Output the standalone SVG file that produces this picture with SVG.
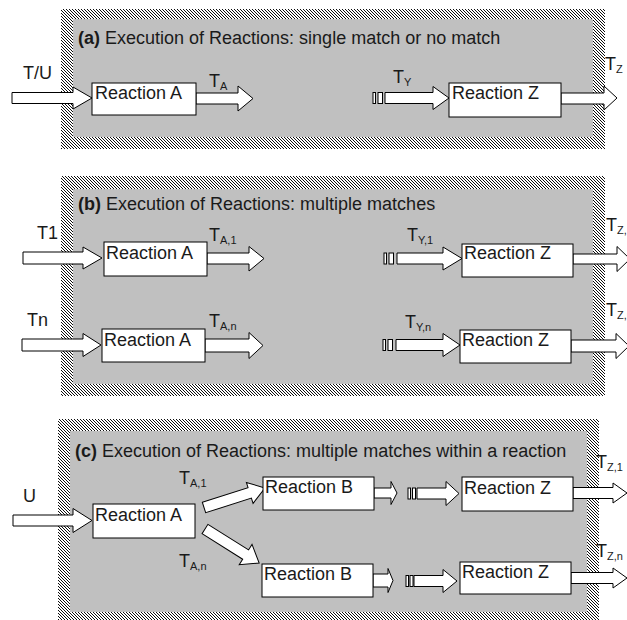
<svg xmlns="http://www.w3.org/2000/svg" width="627" height="620" viewBox="0 0 627 620">
<defs>
<pattern id="hatch" patternUnits="userSpaceOnUse" width="3" height="3">
<rect width="3" height="3" fill="#fff"/>
<path d="M-1,-1 L4,4 M-1,2 L1,4 M2,-1 L4,1" stroke="#000" stroke-width="0.95"/>
</pattern>
<style>
.frame{fill:url(#hatch);stroke:none}
.inner{fill:#c0c0c0;stroke:none}
.box{fill:#fff;stroke:#000;stroke-width:1}
.arr{fill:#fff;stroke:#000;stroke-width:1;stroke-linejoin:miter}
.t{font-family:"Liberation Sans",Arial,sans-serif;font-size:18px;fill:#1a1a1a}
.b{font-weight:bold}
.s{font-size:11px}
</style>
</defs>
<rect width="627" height="620" fill="#fff"/>

<g id="panel-a">
<rect class="frame" x="61" y="9" width="544" height="140"/>
<rect class="inner" x="73" y="19" width="520" height="118"/>
<text class="t" x="78" y="44"><tspan class="b">(a)</tspan> Execution of Reactions: single match or no match</text>
</g>
<g id="panel-b">
<rect class="frame" x="61" y="176" width="544" height="220"/>
<rect class="inner" x="73" y="189" width="520" height="195"/>
<text class="t" x="78" y="210"><tspan class="b">(b)</tspan> Execution of Reactions: multiple matches</text>
</g>
<g id="panel-c">
<rect class="frame" x="58" y="419" width="541" height="206"/>
<rect class="inner" x="70" y="431" width="517" height="181"/>
<text class="t" x="75" y="457"><tspan class="b">(c)</tspan> Execution of Reactions: multiple matches within a reaction</text>
</g>

<g id="connectors">
<!-- panel a -->
<polygon class="arr" points="12,92.5 73,92.5 73,87 92,98 73,109 73,103.5 12,103.5"/>
<polygon class="arr" points="196,93 238,93 238,86 253,98.5 238,111 238,104 196,104"/>
<rect class="arr" x="373" y="92.5" width="2.5" height="11"/>
<rect class="arr" x="378" y="92.5" width="4.5" height="11"/>
<polygon class="arr" points="385,92.5 433,92.5 433,86.5 449,98 433,109.5 433,103.5 385,103.5"/>
<polygon class="arr" points="561,93 604,93 604,86 617,98 604,110 604,104 561,104"/>
<!-- panel b -->
<polygon class="arr" points="23,252 83,252 83,247 102,258 83,269 83,264 23,264"/>
<polygon class="arr" points="207,253 249,253 249,246.5 264,258.5 249,271 249,264 207,264"/>
<rect class="arr" x="384" y="253" width="2.5" height="11"/>
<rect class="arr" x="389" y="253" width="4.5" height="11"/>
<polygon class="arr" points="397,253 443,253 443,247 462,258.5 443,270 443,264 397,264"/>
<polygon class="arr" points="573,254 617,254 617,246.5 630,259 617,271.5 617,264 573,264"/>
<polygon class="arr" points="22,339 83,339 83,333.5 101,345 83,356.5 83,351 22,351"/>
<polygon class="arr" points="205,339 249,339 249,332.5 263,345.5 249,358.5 249,352 205,352"/>
<rect class="arr" x="383" y="339.5" width="2.5" height="11"/>
<rect class="arr" x="388" y="339.5" width="4.5" height="11"/>
<polygon class="arr" points="396,339.5 443,339.5 443,333.5 460,345 443,356.5 443,350.5 396,350.5"/>
<polygon class="arr" points="571,340 616,340 616,333.5 629,346 616,358.5 616,352 571,352"/>
<!-- panel c -->
<polygon class="arr" points="13,515 73,515 73,508.5 92,520.5 73,532.5 73,526 13,526"/>
<polygon class="arr" transform="translate(204,507.5) rotate(-17.7)" points="0,-5.5 48,-5.5 48,-11 64,0 48,11 48,5.5 0,5.5"/>
<polygon class="arr" transform="translate(205,529) rotate(32.2)" points="0,-5.5 48,-5.5 48,-12 64,0 48,12 48,5.5 0,5.5"/>
<polygon class="arr" points="374,488 391,488 391,481.5 397,493 391,504.5 391,498 374,498"/>
<polygon class="arr" points="373,574 388,574 388,568.5 393,580.5 388,592.5 388,587 373,587"/>
<rect class="arr" x="408" y="488" width="2.5" height="11" fill="#000"/>
<rect class="arr" x="412.5" y="488" width="3" height="11"/>
<polygon class="arr" points="417,488 446,488 446,481.5 459,493.5 446,505.5 446,499 417,499"/>
<rect class="arr" x="406" y="575.5" width="2.5" height="11"/>
<rect class="arr" x="410" y="575.5" width="3" height="11"/>
<polygon class="arr" points="414,575.5 443,575.5 443,569.5 457,581 443,592.5 443,586.5 414,586.5"/>
<polygon class="arr" points="573,487.5 613,487.5 613,483 627,493 613,503 613,498.5 573,498.5"/>
<polygon class="arr" points="571,572.5 613,572.5 613,568 627,578 613,588 613,583.5 571,583.5"/>
</g>

<g id="node-a-reactionA">
<rect class="box" x="92" y="83" width="104" height="32"/>
<text class="t" x="95" y="99">Reaction A</text>
</g>
<g id="node-a-reactionZ">
<rect class="box" x="449" y="83" width="112" height="34"/>
<text class="t" x="452" y="99">Reaction Z</text>
</g>
<g id="node-b-reactionA1">
<rect class="box" x="104" y="242" width="103" height="34"/>
<text class="t" x="106" y="259">Reaction A</text>
</g>
<g id="node-b-reactionZ1">
<rect class="box" x="462" y="244" width="111" height="33"/>
<text class="t" x="464" y="259">Reaction Z</text>
</g>
<g id="node-b-reactionAn">
<rect class="box" x="102" y="329" width="103" height="33"/>
<text class="t" x="104" y="346">Reaction A</text>
</g>
<g id="node-b-reactionZn">
<rect class="box" x="460" y="330" width="111" height="33"/>
<text class="t" x="462" y="346">Reaction Z</text>
</g>
<g id="node-c-reactionA">
<rect class="box" x="93" y="504" width="102" height="34"/>
<text class="t" x="95" y="521">Reaction A</text>
</g>
<g id="node-c-reactionB1">
<rect class="box" x="263" y="477" width="111" height="33"/>
<text class="t" x="265" y="493">Reaction B</text>
</g>
<g id="node-c-reactionBn">
<rect class="box" x="262" y="564" width="111" height="33"/>
<text class="t" x="264" y="580">Reaction B</text>
</g>
<g id="node-c-reactionZ1">
<rect class="box" x="462" y="477" width="111" height="34"/>
<text class="t" x="464" y="494">Reaction Z</text>
</g>
<g id="node-c-reactionZn">
<rect class="box" x="460" y="562" width="111" height="32"/>
<text class="t" x="462" y="578">Reaction Z</text>
</g>

<g id="labels">
<text class="t" x="23" y="79">T/U</text>
<text class="t" x="209" y="87">T<tspan class="s" dy="3">A</tspan></text>
<text class="t" x="393" y="83">T<tspan class="s" dy="3">Y</tspan></text>
<text class="t" x="605" y="70">T<tspan class="s" dy="3">Z</tspan></text>
<text class="t" x="37" y="239">T1</text>
<text class="t" x="27" y="326">Tn</text>
<text class="t" x="209" y="241">T<tspan class="s" dy="3">A,1</tspan></text>
<text class="t" x="209" y="327">T<tspan class="s" dy="3">A,n</tspan></text>
<text class="t" x="407" y="241">T<tspan class="s" dy="3">Y,1</tspan></text>
<text class="t" x="405" y="328">T<tspan class="s" dy="3">Y,n</tspan></text>
<text class="t" x="606" y="231">T<tspan class="s" dy="3">Z,1</tspan></text>
<text class="t" x="606" y="316">T<tspan class="s" dy="3">Z,n</tspan></text>
<text class="t" x="23" y="502">U</text>
<text class="t" x="179" y="484">T<tspan class="s" dy="3">A,1</tspan></text>
<text class="t" x="179" y="567">T<tspan class="s" dy="3">A,n</tspan></text>
<text class="t" x="596" y="468">T<tspan class="s" dy="3">Z,1</tspan></text>
<text class="t" x="596" y="557">T<tspan class="s" dy="3">Z,n</tspan></text>
</g>
</svg>
